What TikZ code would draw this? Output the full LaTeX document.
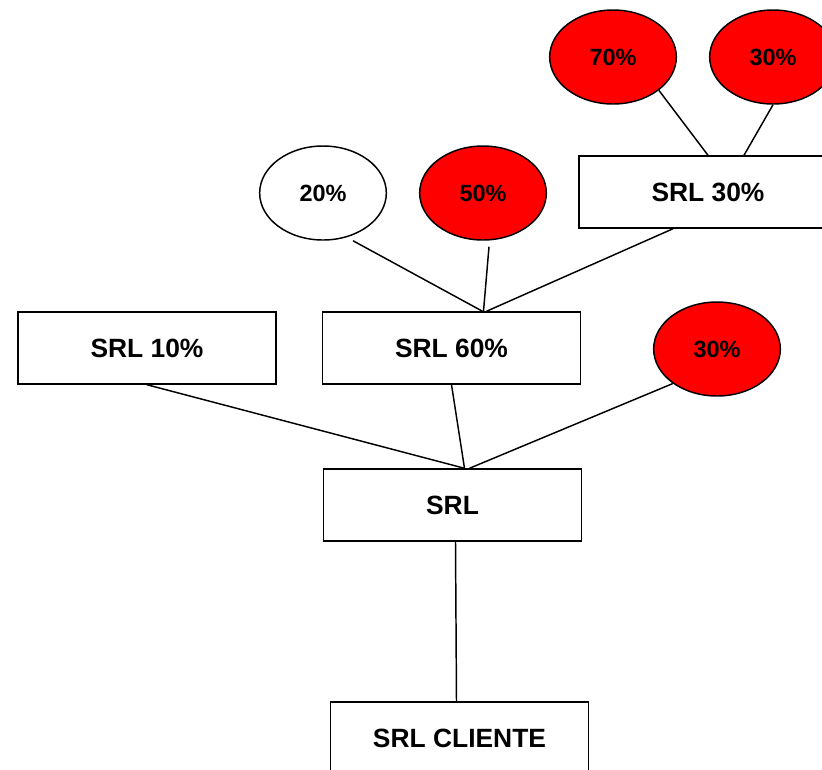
\documentclass[tikz,border=0pt]{standalone}
\usepackage{fontspec}
\setmainfont{Liberation Sans}
\usetikzlibrary{shapes.geometric,calc}

\begin{document}
\begin{tikzpicture}[x=0.75pt, y=-0.75pt, line width=1.1pt,
	firma/.style={draw, rectangle, minimum width=193.5pt, minimum height=54pt, inner sep=0pt, font=\fontsize{19.8}{24}\selectfont\bfseries},
	quota/.style={draw, ellipse, minimum width=95pt, minimum height=70.5pt, inner sep=0pt, font=\fontsize{17.6}{21}\selectfont\bfseries},
	rossa/.style={quota, fill=red}]
	\useasboundingbox (0,0) rectangle (822,769);

	% Nodes {top row, middle rows, client}
	\node [rossa] 	(e70) 	at (613,57) 	{70\%};
	\node [rossa] 	(e30a) 	at (773,57) 	{30\%};
	\node [quota] 	(e20) 	at (323,193) 	{20\%};
	\node [rossa] 	(e50) 	at (483,193) 	{50\%};
	\node [firma] 	(srl30) at (708,192) 	{SRL 30\%};
	\node [firma] 	(srl10) at (147,348) 	{SRL 10\%};
	\node [firma] 	(srl60) at (451.5,348) 	{SRL 60\%};
	\node [rossa] 	(e30b) 	at (717,349) 	{30\%};
	\node [firma] 	(srl) 	at (452.5,505) 	{SRL};
	\node [firma] 	(cli) 	at (459.5,738) 	{SRL CLIENTE};

	% Paths
	\draw (e70.-36) 	-- (srl30.north);
	\draw (e30a.south) 	-- ($(srl30.north)+(36,0)$);
	\draw ($(e20.south)+(30,0)$) 	-- ($(srl60.north)+(31,0)$);
	\draw ($(e50.south)+(6,6)$) 	-- ($(srl60.north)+(32,0)$);
	\draw ($(srl30.south)+(-35,0)$) -- ($(srl60.north)+(35,0)$);
	\draw (srl10.south) -- ($(srl.north)+(12,0)$);
	\draw (srl60.south) -- ($(srl.north)+(12,0)$);
	\draw (e30b.218) 	-- ($(srl.north)+(17,0)$);
	\draw ($(srl.south)+(3,0)$) 	-- ($(cli.north)+(-3,0)$);

\end{tikzpicture}
\end{document}
